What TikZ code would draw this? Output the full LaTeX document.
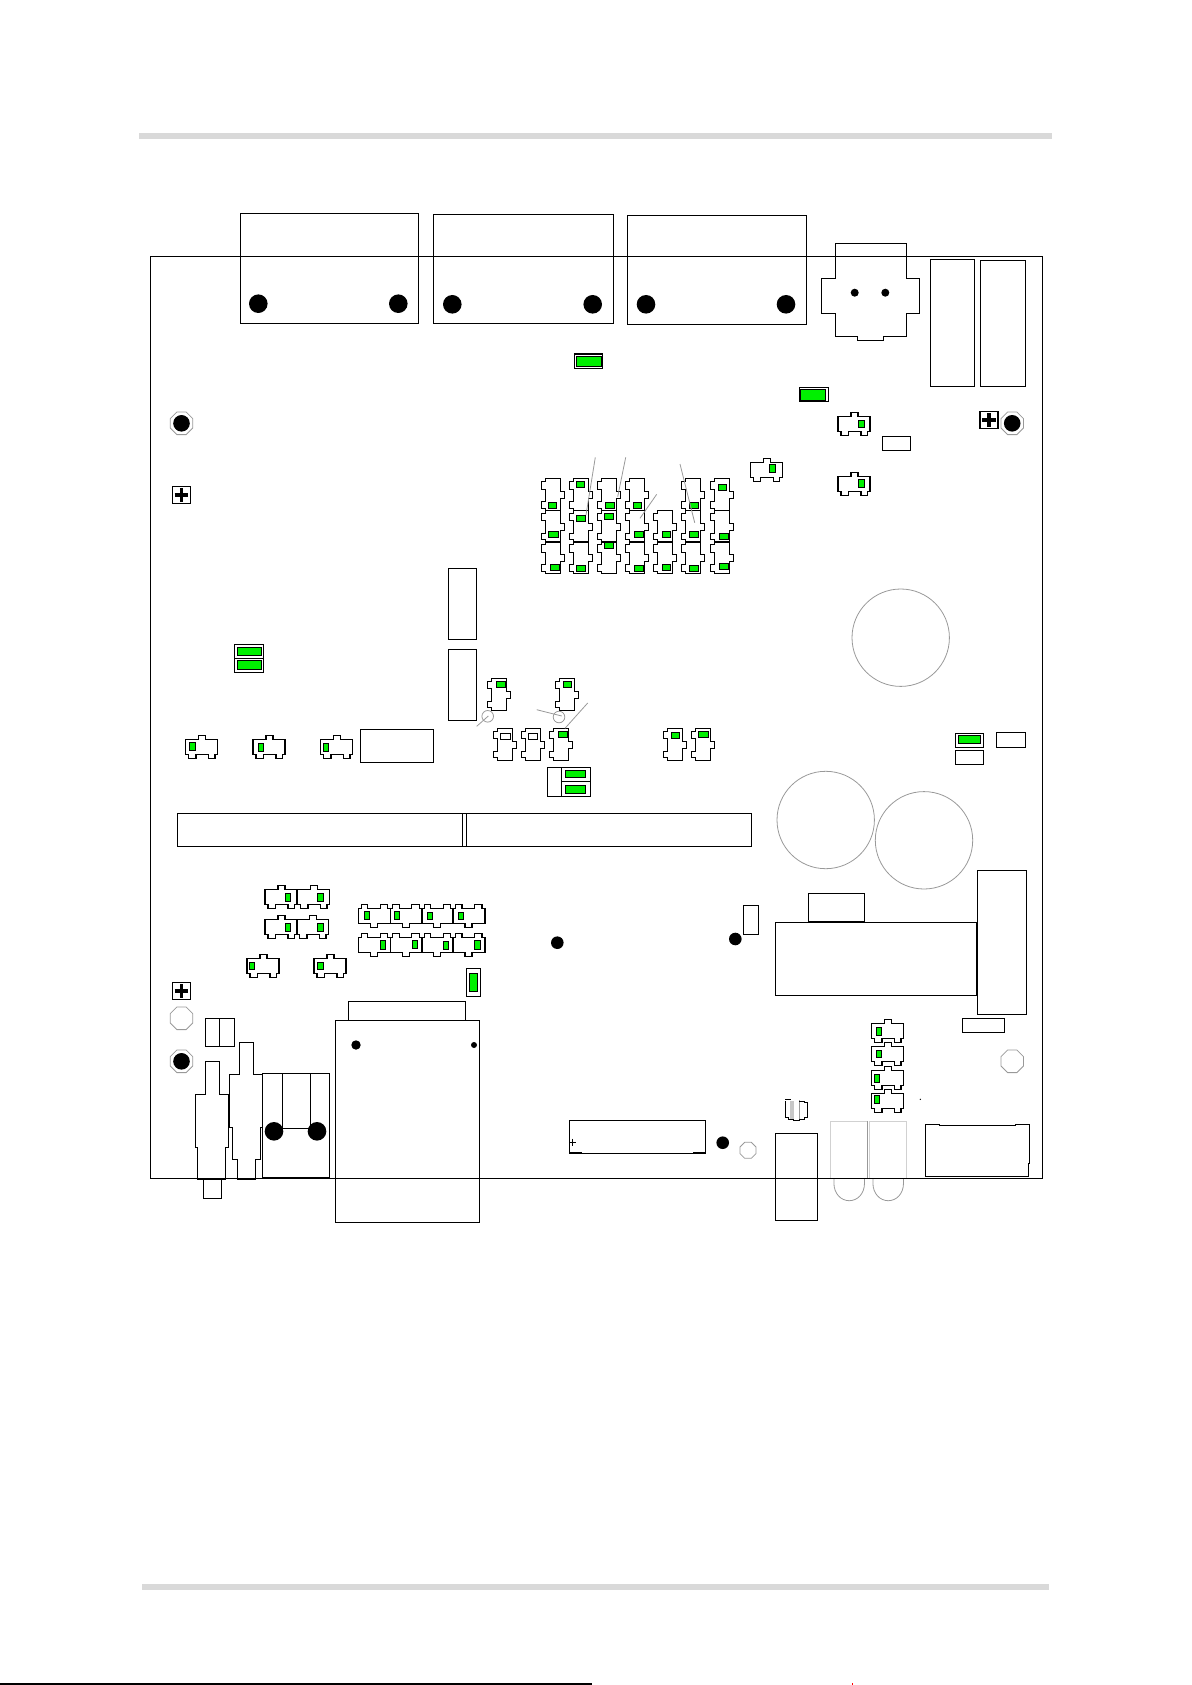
\documentclass[tikz,border=0pt]{standalone}
\usepackage{tikz}
\definecolor{ledgreen}{RGB}{0,240,0}
\definecolor{barfill}{RGB}{217,217,217}
\tikzset{
  part/.style={draw=black, line width=1.1pt},
  lamp/.style={draw=black, line width=1pt, fill=ledgreen},
  hole/.style={fill=black},
  faint/.style={draw=black!40, line width=0.8pt},
  pale/.style={draw=black!18, line width=1pt}
}
\newcommand{\Jumper}[3]{%
  \draw[part, shift={(#1,#2)}, rotate=#3]
    (-16,-7.5) -- (-3,-7.5) -- (-3,-11.5) -- (4,-11.5) -- (4,-7.5) -- (16,-7.5)
    -- (16,7.5) -- (13.5,7.5) -- (13.5,11.5) -- (7,11.5) -- (7,7.5) -- (-5.5,7.5)
    -- (-5.5,11.5) -- (-13,11.5) -- (-13,7.5) -- (-16,7.5) -- cycle;}
\newcommand{\Lamp}[4]{\draw[lamp] (#1-#3/2,#2-#4/2) rectangle (#1+#3/2,#2+#4/2);}
\newcommand{\Mount}[3]{%
  \draw[faint, shift={(#1,#2)}, scale=#3]
    (1,-.41) -- (1,.41) -- (.41,1) -- (-.41,1) -- (-1,.41) -- (-1,-.41)
    -- (-.41,-1) -- (.41,-1) -- cycle;}
\newcommand{\Plus}[2]{%
  \draw[part] (#1-9,#2-8.7) rectangle (#1+9,#2+8.7);
  \draw[line width=3.6pt] (#1-6.8,#2) -- (#1+6.8,#2) (#1,#2-6.8) -- (#1,#2+6.8);}

\begin{document}
\begin{tikzpicture}[x=1pt, y=-1pt]
  \useasboundingbox (0,0) rectangle (1191,1685);

  \fill[barfill] (139,133) rectangle (1052,139);
  \fill[barfill] (142,1584) rectangle (1049,1590);
  \draw[line width=1.3pt] (0,1684) -- (592,1684);
  \draw[red, line width=0.8pt] (852,1683) -- (852,1685);

  % round caps and leds
  \foreach \x/\y in {900.7/637.7, 825.7/820, 924/840.3}
    \draw[faint] (\x,\y) circle (48.7);
  \foreach \x in {830.3, 869.3} {
    \draw[pale] (\x,1179) -- (\x,1121.3) -- (\x+37.6,1121.3) -- (\x+37.6,1179);
    \draw[faint] (\x+3.6,1179) -- (\x+3.6,1183)
      .. controls (\x+3.6,1194) and (\x+11,1200.7) .. (\x+18.9,1200.7)
      .. controls (\x+27,1200.7) and (\x+34.2,1194) .. (\x+34.2,1183) -- (\x+34.2,1179);
  }
  \draw[faint] (867.7,1121.3) -- (867.7,1179);

  % board
  \draw[part] (150.5,256.5) rectangle (1042.3,1178.3);

  % connectors along the top
  \draw[part] (240.3,213.3) rectangle (418.3,323.3);
  \draw[part] (433.3,214.3) rectangle (613.3,323.3);
  \draw[part] (627.3,215.3) rectangle (806.3,324.3);
  \foreach \x/\y in {258.3/303.7, 398.3/303.7, 452.3/304.3, 592.7/304.3, 646/304.3, 786/304.3}
    \fill[hole] (\x,\y) circle (9.3);

  \draw[part] (835.3,278.3) -- (835.3,243.3) -- (906.7,243.3) -- (906.7,278.3)
    -- (919.7,278.3) -- (919.7,313.3) -- (906.7,313.3) -- (906.7,336.7)
    -- (883.3,336.7) -- (883.3,340.7) -- (857.3,340.7) -- (857.3,336.7)
    -- (835.3,336.7) -- (835.3,313.3) -- (821.3,313.3) -- (821.3,278.3) -- cycle;
  \fill[hole] (854.7,292.7) circle (4);
  \fill[hole] (885.3,292.7) circle (4);
  \draw[part] (930.3,259.3) rectangle (974.7,386.3);
  \draw[part] (980.3,260.3) rectangle (1025.7,386.3);

  % mounting holes
  \foreach \x/\y/\r in {181.5/423.3/11.3, 1012.2/423.3/11.3, 181.5/1018.3/11.3,
      181.5/1061.3/11.3, 1012.2/1061.3/11.3, 748/1150.3/8} {
    \Mount{\x}{\y}{\r}
  }
  \foreach \x/\y in {181.5/423.3, 1012.2/423.3, 181.5/1061.3}
    \fill[hole] (\x,\y) circle (8.3);
  \foreach \x/\y in {557.3/942.7, 735.3/939, 722.7/1142.7}
    \fill[hole] (\x,\y) circle (6.3);
  \Plus{181.5}{495}
  \Plus{989}{420}
  \Plus{181.5}{991}

  % jumpers, upright
  \foreach \x in {553, 581, 609, 637, 693, 722} {
    \Jumper{\x}{494.8}{-90}
  }
  \foreach \x in {553, 581, 609, 637, 665, 693, 722} {
    \Jumper{\x}{526.3}{-90}
    \Jumper{\x}{557.8}{-90}
  }
  \foreach \x/\y in {499/694.3, 567/694.3, 505/744.3, 533/744.3, 561/744.3, 675/744.3, 703/744.3} {
    \Jumper{\x}{\y}{-90}
  }

  % jumpers, lying down
  \foreach \x/\y in {766.3/469.8, 854/423.8, 854/484, 201.5/747, 269/747, 336.5/747,
      887.5/1031.2, 887.5/1053.8, 887.5/1078.2, 887.5/1100.8,
      281/896.8, 313.5/896.8, 281/926.8, 312.5/926.8, 263/965.8, 330/965.8} {
    \Jumper{\x}{\y}{0}
  }
  \foreach \x in {374.8, 406.3, 437.8, 469} {
    \Jumper{\x}{915.8}{180}
    \Jumper{\x}{944.8}{180}
  }

  % green parts on the jumpers
  \foreach \x/\y/\w in {552.3/505.3/8, 553.3/534.3/10.5, 555/567.7/9.3, 580.3/484.3/8,
      581/518.3/9.3, 581/568.3/9.3, 610/505.3/9.3, 609/516.3/9.3, 609/545.3/8.7,
      637.3/505.3/8, 639/534.3/9.3, 639/568.3/9.3, 666.3/534.3/8, 666.3/567.3/8,
      694/505.3/9.3, 694/534.3/9.3, 694/568.3/9.3, 722.3/487.7/8, 724/536.3/9.3,
      724/566.3/9.3, 501/684.3/9.3, 567.3/684.3/8, 563/734.7/9.3, 675.3/735.3/8,
      703.3/734.3/10} {
    \Lamp{\x}{\y}{\w}{6}
  }
  \foreach \x/\y/\h in {772.3/468.3/8, 861.3/424/7.3, 861.3/483.3/8, 192.3/746.3/8,
      261/747.3/8, 326/747.3/8, 879/1031.3/8, 879/1054/7.3, 877/1078.3/8, 877/1099.3/8,
      288/897.3/8, 320.3/897.3/8, 288/927.3/8, 320.3/927.3/8, 252/966/7, 320.3/966/7,
      367/915.7/8, 397/915.7/8, 430/916/7.3, 461/916/7.3, 383/945/9.3, 415/944.3/8,
      446/945.3/8, 477.3/945/9.3} {
    \Lamp{\x}{\y}{5.5}{\h}
  }
  \draw[part] (500.7,733.3) rectangle (510.7,739.3);
  \draw[part] (528.3,733.3) rectangle (537.7,739.3);

  % switches
  \draw[part] (574.3,354) rectangle (602.7,368.7);
  \Lamp{589.2}{361}{25}{10}
  \draw[part] (799.3,387.3) rectangle (828.7,401.7);
  \Lamp{813.2}{394.8}{25}{11}
  \draw[part] (234.3,644.3) rectangle (263.7,658.3);
  \draw[part] (234.3,658.3) rectangle (263.7,672.7);
  \Lamp{249.3}{651.3}{24}{8}
  \Lamp{249.3}{665}{24}{8.7}
  \draw[part] (547.3,767.3) rectangle (590.7,796.3);
  \draw[part] (561.3,767.3) -- (561.3,796.3) (561.3,781.3) -- (590.7,781.3);
  \Lamp{575.3}{774}{20}{7.3}
  \Lamp{575.3}{789.3}{20}{8}
  \draw[part] (955.3,733.3) rectangle (983.7,747.7);
  \Lamp{969.5}{739.5}{22.4}{8.4}
  \draw[part] (466.3,968.3) rectangle (480.7,996.3);
  \Lamp{473.5}{982.5}{8.4}{18.4}

  % plain blocks
  \draw[part] (882.3,436.3) rectangle (910.7,450.3);
  \draw[part] (448.3,568.3) rectangle (476.7,639.7);
  \draw[part] (448.3,649.3) rectangle (476.7,720.7);
  \draw[part] (360.3,729.3) rectangle (433.7,762.3);
  \draw[part] (955.3,750.3) rectangle (983.7,764.7);
  \draw[part] (996.3,732.3) rectangle (1025.7,747.7);
  \draw[part] (177.3,813.3) rectangle (751.7,846.3);
  \draw[part] (462.7,813.3) -- (462.7,846.3) (466.3,813.3) -- (466.3,846.3);
  \draw[part] (775.3,922.3) rectangle (976.7,995.3);
  \draw[part] (808.3,893.3) rectangle (864.7,921.7);
  \draw[part] (977.3,870.3) rectangle (1026.7,1014.3);
  \draw[part] (743.3,905.3) rectangle (758.7,934.3);
  \draw[part] (962.3,1018.3) rectangle (1004.3,1032.7);
  \draw[part] (775.3,1133.3) rectangle (817.3,1220.3);

  % audio jacks and the socket between them
  \draw[part] (205.3,1018.3) rectangle (234.3,1046.3);
  \draw[part] (219.3,1018.3) -- (219.3,1046.3);
  \draw[part] (205.3,1094.3) -- (205.3,1061.3) -- (219.3,1061.3) -- (219.3,1094.3)
    -- (228.7,1094.3) -- (228.7,1147.3) -- (225.7,1147.3) -- (225.7,1179)
    -- (197.3,1179) -- (197.3,1147.3) -- (195.3,1147.3) -- (195.3,1094.3) -- cycle;
  \draw[part] (203.3,1179) -- (203.3,1198.3) -- (221.7,1198.3) -- (221.7,1179);
  \draw[part] (239.3,1074.3) -- (239.3,1042.3) -- (253.3,1042.3) -- (253.3,1074.3)
    -- (262.3,1074.3) -- (262.3,1127.3) -- (260.7,1127.3) -- (260.7,1159.3)
    -- (255.7,1159.3) -- (255.7,1179.3) -- (237.3,1179.3) -- (237.3,1159.3)
    -- (232.3,1159.3) -- (232.3,1127.3) -- (229.3,1127.3) -- (229.3,1074.3) -- cycle;
  \draw[part] (262.3,1073.3) rectangle (329.7,1177.3);
  \draw[part] (282.3,1073.3) -- (282.3,1128.3) -- (310.3,1128.3) -- (310.3,1073.3);
  \fill[hole] (274,1131.3) circle (9.3);
  \fill[hole] (317,1131.3) circle (9.3);

  \draw[part] (335.3,1020.3) rectangle (479.3,1222.3);
  \draw[part] (348.3,1020.3) -- (348.3,1001.3) -- (465.3,1001.3) -- (465.3,1020.3);
  \fill[hole] (356,1045) circle (4.7);
  \fill[hole] (474,1045) circle (3);

  % flat connectors at the bottom
  \draw[part] (569.3,1120.3) rectangle (705.3,1153.3);
  \draw[line width=1.8pt] (569.3,1152.8) -- (582,1152.8) (693,1152.8) -- (705.3,1152.8);
  \draw[line width=0.8pt] (569,1142) -- (576,1142) (572,1138.5) -- (572,1145.5);
  \draw[part] (925.3,1124.3) -- (939.7,1124.3) -- (939.7,1125.3) -- (1015.3,1125.3)
    -- (1015.3,1124.3) -- (1029.3,1124.3) -- (1029.3,1163.3) -- (1028.7,1163.3)
    -- (1028.7,1176.7) -- (925.3,1176.7) -- cycle;
  \fill (920.3,1099.3) circle (0.7);

  % small cap
  \fill[black!22] (789.5,1101) rectangle (794.3,1119);
  \draw[faint] (799,1100) -- (799,1119);
  \draw[part, line width=0.9pt] (785.3,1099.5) -- (790.7,1099.5)
    (785.3,1101) -- (785.3,1117.3) -- (788.7,1117.3) -- (788.7,1119.3) -- (793,1119.3)
    -- (793,1120.7) -- (799.3,1120.7) -- (799.3,1119.3) -- (804,1119.3) -- (804,1117.3)
    -- (807.7,1117.3) -- (807.7,1102.7) -- (804,1102.7) -- (804,1101) -- (799,1101);

  % leader lines
  \draw[faint] (487.7,716.3) circle (5.8);
  \draw[faint] (559,717) circle (5.8);
  \foreach \xa/\ya/\xb/\yb in {595.3/457.3/586/515, 625.7/457.3/617.7/496.7,
      656.7/494.3/640/518.3, 680/464/694.7/522.7, 476.7/726.3/488.3/716,
      536.7/709.7/561.7/716, 587.7/703/565/728.3}
    \draw[faint] (\xa,\ya) -- (\xb,\yb);
\end{tikzpicture}
\end{document}
